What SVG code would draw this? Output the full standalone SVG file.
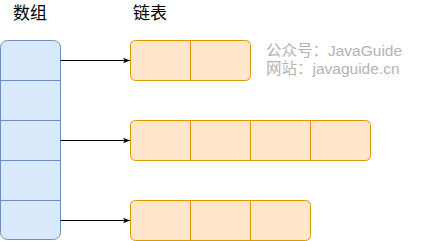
<svg xmlns="http://www.w3.org/2000/svg" width="421" height="241" viewBox="0 0 421 241">
<style>
.arr{fill:#dae8fc;stroke:#6c8ebf;stroke-width:1}
.lk{fill:#ffe6cc;stroke:#d79b00;stroke-width:1}
.div{stroke:#d79b00;stroke-width:1;fill:none}
.adiv{stroke:#6c8ebf;stroke-width:1;fill:none}
.title{font-family:"Liberation Sans","Noto Sans CJK SC",sans-serif;font-size:17px;fill:#000}
.wm{font-family:"Liberation Sans","Noto Sans CJK SC",sans-serif;font-size:15.5px;fill:#b3b3b3}
.edge{stroke:#000;stroke-width:1;fill:none;marker-end:url(#ah)}
</style>
<defs>
<marker id="ah" viewBox="0 0 10 10" refX="10" refY="5" markerWidth="7" markerHeight="7" markerUnits="userSpaceOnUse" orient="auto">
<path d="M0,1 L10,5 L0,9 L2.5,5 Z" fill="#000"/>
</marker>
</defs>
<rect width="421" height="241" fill="#fff"/>
<g id="labels">
<text class="title" x="13" y="19">数组</text>
<text class="title" x="133" y="19">链表</text>
</g>
<g id="array">
<rect class="arr" x="0.5" y="40.5" width="60" height="199" rx="7"/>
<path class="adiv" d="M0.5,80.5H60.5M0.5,120.5H60.5M0.5,160.5H60.5M0.5,200.5H60.5"/>
</g>
<g id="list1">
<rect class="lk" x="130.5" y="40.5" width="120" height="40" rx="5"/>
<path class="div" d="M190.5,40.5V80.5"/>
</g>
<g id="list2">
<rect class="lk" x="130.5" y="120.5" width="240" height="40" rx="5"/>
<path class="div" d="M190.5,120.5V160.5M250.5,120.5V160.5M310.5,120.5V160.5"/>
</g>
<g id="list3">
<rect class="lk" x="130.5" y="200.5" width="180" height="40" rx="5"/>
<path class="div" d="M190.5,200.5V240.5M250.5,200.5V240.5"/>
</g>
<g id="connectors">
<path class="edge" d="M60.5,60.5H130"/>
<path class="edge" d="M60.5,140.5H130"/>
<path class="edge" d="M60.5,220.5H130"/>
</g>
<g id="watermark">
<text class="wm" x="266" y="56">公众号：JavaGuide</text>
<text class="wm" x="266" y="74">网站：javaguide.cn</text>
</g>
</svg>
